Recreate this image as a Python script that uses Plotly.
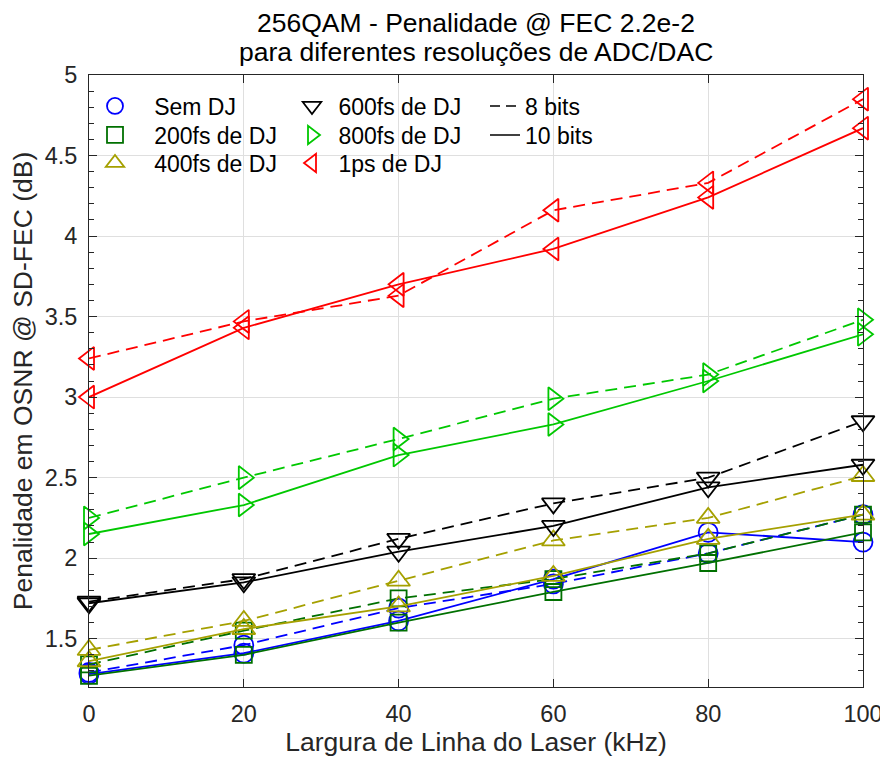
import plotly.graph_objects as go

x_khz = [0, 20, 40, 60, 80, 100]

sem_8 = [1.29, 1.46, 1.69, 1.84, 2.03, 2.27]
sem_10 = [1.28, 1.41, 1.61, 1.87, 2.16, 2.10]
fs200_8 = [1.34, 1.55, 1.75, 1.87, 2.03, 2.27]
fs200_10 = [1.27, 1.40, 1.60, 1.79, 1.97, 2.16]
fs400_8 = [1.43, 1.61, 1.86, 2.11, 2.25, 2.51]
fs400_10 = [1.36, 1.56, 1.70, 1.89, 2.12, 2.27]
fs600_8 = [1.73, 1.87, 2.12, 2.34, 2.50, 2.85]
fs600_10 = [1.72, 1.85, 2.04, 2.20, 2.44, 2.58]
fs800_8 = [2.25, 2.50, 2.74, 2.99, 3.14, 3.48]
fs800_10 = [2.15, 2.33, 2.64, 2.83, 3.10, 3.39]
ps1_8 = [3.24, 3.47, 3.63, 4.16, 4.33, 4.85]
ps1_10 = [3.00, 3.43, 3.70, 3.92, 4.24, 4.67]

series_names = ["Sem DJ", "200fs de DJ", "400fs de DJ", "600fs de DJ", "800fs de DJ", "1ps de DJ"]
series_8 = [sem_8, fs200_8, fs400_8, fs600_8, fs800_8, ps1_8]
series_10 = [sem_10, fs200_10, fs400_10, fs600_10, fs800_10, ps1_10]
resolution_names = ["8 bits", "10 bits"]
title_lines = ["256QAM - Penalidade @ FEC 2.2e-2", "para diferentes resoluções de ADC/DAC"]

colors = ["#0000FF", "#007000", "#A5A000", "#000000", "#00C800", "#FF0000"]
symbols = ["circle-open", "square-open", "triangle-up-open", "triangle-down-open",
           "triangle-right-open", "triangle-left-open"]
sizes = [19, 16, 20, 20, 20, 20]

FONT = "Liberation Sans, Arial, Helvetica, sans-serif"
DASH = "12px,7px"
TXT = "#262626"

# the page body has an 8px margin: figure pixel = screen pixel - 8
OFF = 8
W, H = 888 - OFF, 760 - OFF
L, R, T, B = 89 - OFF, 863 - OFF, 75 - OFF, 687 - OFF


def px_x(p):
    return (p - OFF - L) / (R - L)


def px_y(p):
    return (B - (p - OFF)) / (B - T)


fig = go.Figure()

for name, y8, y10, c, s, sz in zip(series_names, series_8, series_10, colors, symbols, sizes):
    for yv, dash in ((y8, DASH), (y10, "solid")):
        fig.add_trace(go.Scatter(
            x=x_khz, y=yv, mode="lines+markers",
            line=dict(color=c, width=1.8, dash=dash),
            marker=dict(symbol=s, size=sz, color=c, line=dict(width=1.8, color=c)),
            cliponaxis=False, showlegend=False, hoverinfo="x+y",
        ))

# legend: one single-entry legend per item, arranged as in the reference (3 columns)
NB = "\u00a0"
col_x = [px_x(95), px_x(292), px_x(485)]
row_y = [px_y(106), px_y(135), px_y(163)]
leg_common = dict(bgcolor="rgba(0,0,0,0)", borderwidth=0, tracegroupgap=0,
                  font=dict(family=FONT, size=23, color="#000000"),
                  xanchor="left", yanchor="middle", itemclick=False, itemdoubleclick=False)
layout_legends = {}
k = 0
for i, (name, c, s, sz) in enumerate(zip(series_names, colors, symbols, sizes)):
    k += 1
    lname = "legend" if k == 1 else f"legend{k}"
    col, row = divmod(i, 3)
    pad = NB * 3 if col == 0 else NB
    fig.add_trace(go.Scatter(
        x=[None], y=[None], mode="markers", name=pad + name,
        marker=dict(symbol=s, size=sz, color=c, line=dict(width=1.8, color=c)),
        legend=lname,
    ))
    layout_legends[lname] = dict(x=col_x[col], y=row_y[row], **leg_common)
for j, (rname, dash) in enumerate(zip(resolution_names, ["10px,6px", "solid"])):
    k += 1
    lname = f"legend{k}"
    fig.add_trace(go.Scatter(x=[None], y=[None], mode="lines", name=rname,
                             line=dict(color="black", width=1.6, dash=dash), legend=lname))
    layout_legends[lname] = dict(x=col_x[2], y=row_y[j], **leg_common)
fig.update_layout(**layout_legends)

axis_common = dict(
    showline=True, linecolor=TXT, linewidth=1, mirror="allticks",
    ticks="inside", ticklen=8, tickcolor=TXT, tickwidth=1,
    showgrid=True, gridcolor="#DFDFDF", gridwidth=1, zeroline=False,
    tickfont=dict(family=FONT, size=23.5, color=TXT), automargin=False,
)

fig.update_xaxes(range=[0, 100], tickvals=x_khz, ticklabelstandoff=6,
                 title=dict(text="Largura de Linha do Laser (kHz)", standoff=6,
                            font=dict(family=FONT, size=26.5, color=TXT)),
                 **axis_common)
fig.update_yaxes(range=[1.2, 5], tickvals=[1.5, 2, 2.5, 3, 3.5, 4, 4.5, 5],
                 ticktext=["1.5", "2", "2.5", "3", "3.5", "4", "4.5", "5"],
                 ticklabelstandoff=6,
                 minor=dict(dtick=0.1, tick0=0, ticks="inside", ticklen=5, tickcolor=TXT, showgrid=False),
                 title=dict(text="Penalidade em OSNR @ SD-FEC (dB)", standoff=10,
                            font=dict(family=FONT, size=26.5, color=TXT)),
                 **axis_common)

annotations = []
for line, py in zip(title_lines, [22.5, 52.5]):
    annotations.append(dict(text=line, xref="paper", yref="paper", x=0.5, y=px_y(py),
                            xanchor="center", yanchor="middle", showarrow=False,
                            font=dict(family=FONT, size=26.5, color="#000000")))

fig.update_layout(
    width=W, height=H,
    margin=dict(l=L, r=W - R, t=T, b=H - B, autoexpand=False),
    paper_bgcolor="white", plot_bgcolor="white",
    annotations=annotations,
    font=dict(family=FONT),
)

fig.write_html("out.html")
